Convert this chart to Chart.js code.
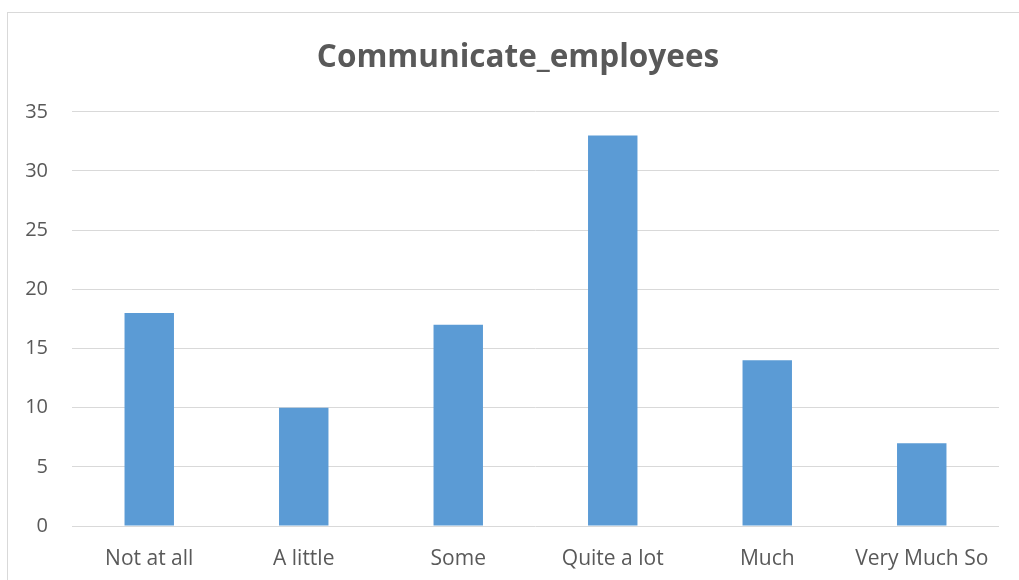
<!DOCTYPE html>
<html>
<head>
<meta charset="utf-8">
<script src="https://cdn.jsdelivr.net/npm/chart.js@4"></script>
<style>
  html, body { margin: 0; padding: 0; background: #fff; overflow: hidden; }
  #wrap { position: relative; width: 1019px; height: 580px; }
  #frame {
    position: absolute; left: 7px; top: 12px; width: 1100px; height: 700px;
    border-left: 1px solid #d9d9d9; border-top: 1px solid #d9d9d9;
  }
  canvas { position: absolute; left: 0; top: 0; }
</style>
</head>
<body>
<div id="wrap">
  <div id="frame"></div>
  <canvas id="chart" width="1019" height="580"></canvas>
</div>
<script>
var categories = ['Not at all', 'A little', 'Some', 'Quite a lot', 'Much', 'Very Much So'];
var counts = [18, 10, 17, 33, 14, 7];
var yTicks = [0, 5, 10, 15, 20, 25, 30, 35];

var fontFamily = "'Open Sans', 'Noto Sans', sans-serif";

var ctx = document.getElementById('chart').getContext('2d');
var chart = new Chart(ctx, {
  type: 'bar',
  data: {
    labels: categories,
    datasets: [{
      data: counts,
      backgroundColor: '#5b9bd5',
      borderWidth: 0,
      categoryPercentage: 1,
      barPercentage: 0.32
    }]
  },
  options: {
    responsive: false,
    animation: false,
    layout: { padding: { left: 17, right: 0, top: 0, bottom: 0 } },
    plugins: {
      legend: { display: false },
      tooltip: { enabled: false },
      title: {
        display: true,
        text: 'Communicate_employees',
        color: '#595959',
        font: { family: fontFamily, size: 31.5, weight: 'bold', lineHeight: 1.2 },
        padding: { top: 39, bottom: 35 }
      }
    },
    scales: {
      x: {
        grid: { display: false, drawTicks: false },
        border: { display: false },
        ticks: {
          color: '#595959',
          font: { family: fontFamily, size: 21 },
          padding: 20,
          maxRotation: 0
        },
        afterFit: function (scale) { scale.height = 54; }
      },
      y: {
        min: 0,
        max: 35,
        afterBuildTicks: function (scale) {
          scale.ticks = yTicks.map(function (v) { return { value: v }; });
        },
        grid: { color: '#d9d9d9', lineWidth: 1, drawTicks: false },
        border: { display: false },
        ticks: {
          color: '#595959',
          font: { family: fontFamily, size: 20 },
          padding: 24
        },
        afterFit: function (scale) { scale.width = 55; }
      },
      // empty right-hand axis, only keeps a margin right of the plot
      yRight: {
        type: 'linear',
        position: 'right',
        grid: { display: false, drawTicks: false },
        border: { display: false },
        ticks: { display: false },
        afterFit: function (scale) { scale.width = 20; }
      }
    }
  }
});
</script>
</body>
</html>
